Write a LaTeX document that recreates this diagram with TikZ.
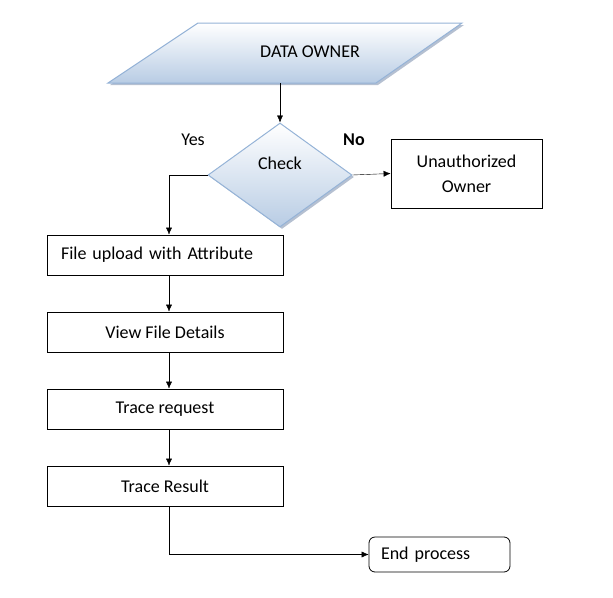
\documentclass[tikz,border=0pt]{standalone}
\usepackage{fontspec}
\setmainfont{Carlito}
\usetikzlibrary{shapes.geometric, shadows, arrows.meta, positioning}
\definecolor{lineblue}{RGB}{149,179,215}
\definecolor{fillblue}{RGB}{184,204,228}
\definecolor{shadowblue}{RGB}{150,165,190}
\tikzset{
  ->,
  >={Latex[length=7pt, width=6pt]},
  x=1pt, y=-1pt,
  node distance=77pt,
  every node/.style={font=\fontsize{18}{21}\selectfont},
  shaded/.style={draw=lineblue, line width=1pt, top color=white, bottom color=fillblue,
    drop shadow={shadow xshift=2pt, shadow yshift=-2pt, fill=shadowblue, opacity=0.7}},
  decision/.style={shaded, diamond, minimum width=144pt, minimum height=104pt, inner sep=0pt},
  process/.style={draw, line width=0.8pt, minimum width=236pt, minimum height=40pt},
  terminal/.style={draw, line width=0.8pt, rounded corners=6pt, minimum width=141pt,
    minimum height=35pt, text width=117pt, inner xsep=12pt, align=left},
}
\begin{document}
\begin{tikzpicture}
        \useasboundingbox[-] (0,0) rectangle (613,597);

        % shapes
        \path[shaded, -] (198,23) -- (462,23) -- (376,83) -- (108,83) -- cycle;
        \node (owner) at (310,52) {DATA OWNER};
        \coordinate (ownerbase) at (280,83);
        \node[decision, label={[yshift=12pt]center:Check}] (check) at (280,175) {};
        \node[draw, line width=0.8pt, minimum width=151pt, minimum height=69pt,
              align=center, font=\fontsize{18}{25}\selectfont] (unauth) at (466.5,173.5)
              {Unauthorized\\Owner};
        \node[process, text width=208pt, inner xsep=14pt, align=left] (upload) at (165,255)
              {File upload with Attribute};
        \node[process, below of=upload] (view) {View File Details};
        \node[process, below of=view] (request) {Trace request};
        \node[process, below of=request] (result) {Trace Result};
        \node[terminal] (end) at (439.5,554.5) {End process};

        % labels
        \node at (193,140) {Yes};
        \node[font=\fontsize{18}{21}\selectfont\bfseries] at (354,140) {No};

        % connectors
        \draw (ownerbase) -- (check.north);
        \draw (check.east) -- (unauth.west);
        \draw (check.west) -| ([xshift=4pt]upload.north);
        \draw ([xshift=4pt]upload.south) -- ([xshift=4pt]view.north);
        \draw ([xshift=4pt]view.south) -- ([xshift=4pt]request.north);
        \draw ([xshift=4pt]request.south) -- ([xshift=4pt]result.north);
        \draw ([xshift=4pt]result.south) |- (end.west);

\end{tikzpicture}
\end{document}
